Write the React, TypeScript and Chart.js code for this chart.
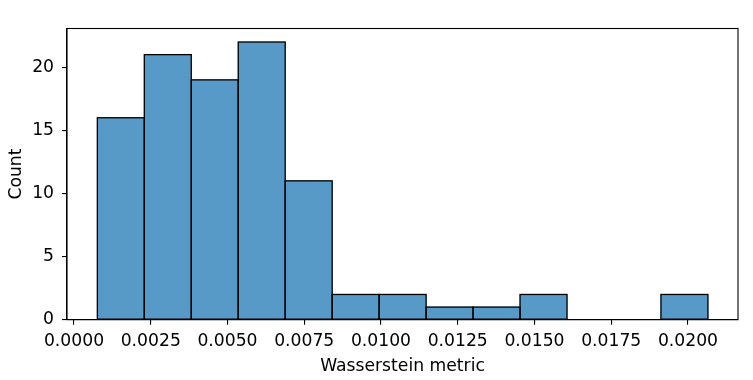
import React, { useEffect, useRef } from "react";
import { Chart, registerables } from "chart.js";

Chart.register(...registerables);

const binEdges = [0.00076, 0.00229, 0.00382, 0.00535, 0.00688, 0.00841, 0.00994, 0.01147, 0.013, 0.01453, 0.01606, 0.01759, 0.01912, 0.02065];
const counts = [16, 21, 19, 22, 11, 2, 2, 1, 1, 2, 0, 0, 2];
const xTickValues = [0, 0.0025, 0.005, 0.0075, 0.01, 0.0125, 0.015, 0.0175, 0.02];
const yTickValues = [0, 5, 10, 15, 20];
const xRange = [-0.000228, 0.02163];
const yRange = [0, 23.07];
const xLabel = "Wasserstein metric";
const yLabel = "Count";

const FONT = "'DejaVu Sans', sans-serif";
const FS = 17.2;

export default function App() {
  const ref = useRef<HTMLCanvasElement | null>(null);
  useEffect(() => {
    if (!ref.current) return;
    const data = counts
      .map((c, i) => ({ x: (binEdges[i] + binEdges[i + 1]) / 2, y: c }))
      .filter((d) => d.y > 0);

    const framePlugin = {
      id: "frame",
      afterDatasetsDraw(chart: any) {
        const ctx = chart.ctx;
        const meta = chart.getDatasetMeta(0);
        ctx.save();
        ctx.strokeStyle = "#000";
        ctx.lineWidth = 1.3;
        meta.data.forEach((el: any) => {
          const p = el.getProps(["x", "y", "base", "width"], true);
          ctx.strokeRect(p.x - p.width / 2, p.y, p.width, p.base - p.y);
        });
        ctx.restore();
      },
      afterDraw(chart: any) {
        const { ctx, chartArea: a } = chart;
        ctx.save();
        ctx.strokeStyle = "#000";
        ctx.lineWidth = 1.1;
        ctx.strokeRect(a.left, a.top, a.right - a.left, a.bottom - a.top);
        ctx.restore();
      },
    };

    const chart = new Chart(ref.current, {
      type: "bar",
      data: {
        datasets: [
          {
            data,
            backgroundColor: "#5799C7",
            borderWidth: 0,
            barPercentage: 1,
            categoryPercentage: 1,
          },
        ],
      },
      options: {
        animation: false,
        responsive: false,
        devicePixelRatio: 1,
        layout: { padding: { left: 0, right: 15, top: 28.5, bottom: 0 } },
        plugins: { legend: { display: false }, tooltip: { enabled: false } },
        scales: {
          x: {
            type: "linear",
            offset: false,
            min: xRange[0],
            max: xRange[1],
            afterBuildTicks: (s: any) => {
              s.ticks = xTickValues.map((v) => ({ value: v }));
            },
            afterFit: (s: any) => {
              s.height = 60.3;
            },
            grid: { display: true, offset: false, drawOnChartArea: false, drawTicks: true, tickLength: 5, color: "#000", lineWidth: 1.1 },
            border: { display: true, color: "#000", width: 1.1 },
            ticks: {
              color: "#000",
              font: { family: FONT, size: FS },
              padding: 7,
              maxRotation: 0,
              autoSkip: false,
              callback: (v: any) => Number(v).toFixed(4),
            },
            title: {
              display: true,
              text: xLabel,
              color: "#000",
              font: { family: FONT, size: FS },
              padding: { top: 0, bottom: 3.5 },
            },
          },
          y: {
            type: "linear",
            min: yRange[0],
            max: yRange[1],
            afterBuildTicks: (s: any) => {
              s.ticks = yTickValues.map((v) => ({ value: v }));
            },
            afterFit: (s: any) => {
              s.width = 67;
            },
            grid: { display: true, drawOnChartArea: false, drawTicks: true, tickLength: 5, color: "#000", lineWidth: 1.1 },
            border: { display: true, color: "#000", width: 1.1 },
            ticks: {
              color: "#000",
              font: { family: FONT, size: FS },
              padding: 8,
              autoSkip: false,
              callback: (v: any) => String(v),
            },
            title: {
              display: true,
              text: yLabel,
              color: "#000",
              font: { family: FONT, size: FS },
              padding: { top: 6.5, bottom: 0 },
            },
          },
        },
      },
      plugins: [framePlugin],
    });
    return () => chart.destroy();
  }, []);

  return (
    <div style={{ position: "absolute", left: 0, top: 0, width: 753, height: 380, background: "#fff" }}>
      <canvas ref={ref} width={753} height={380} style={{ width: 753, height: 380, display: "block" }} />
    </div>
  );
}
